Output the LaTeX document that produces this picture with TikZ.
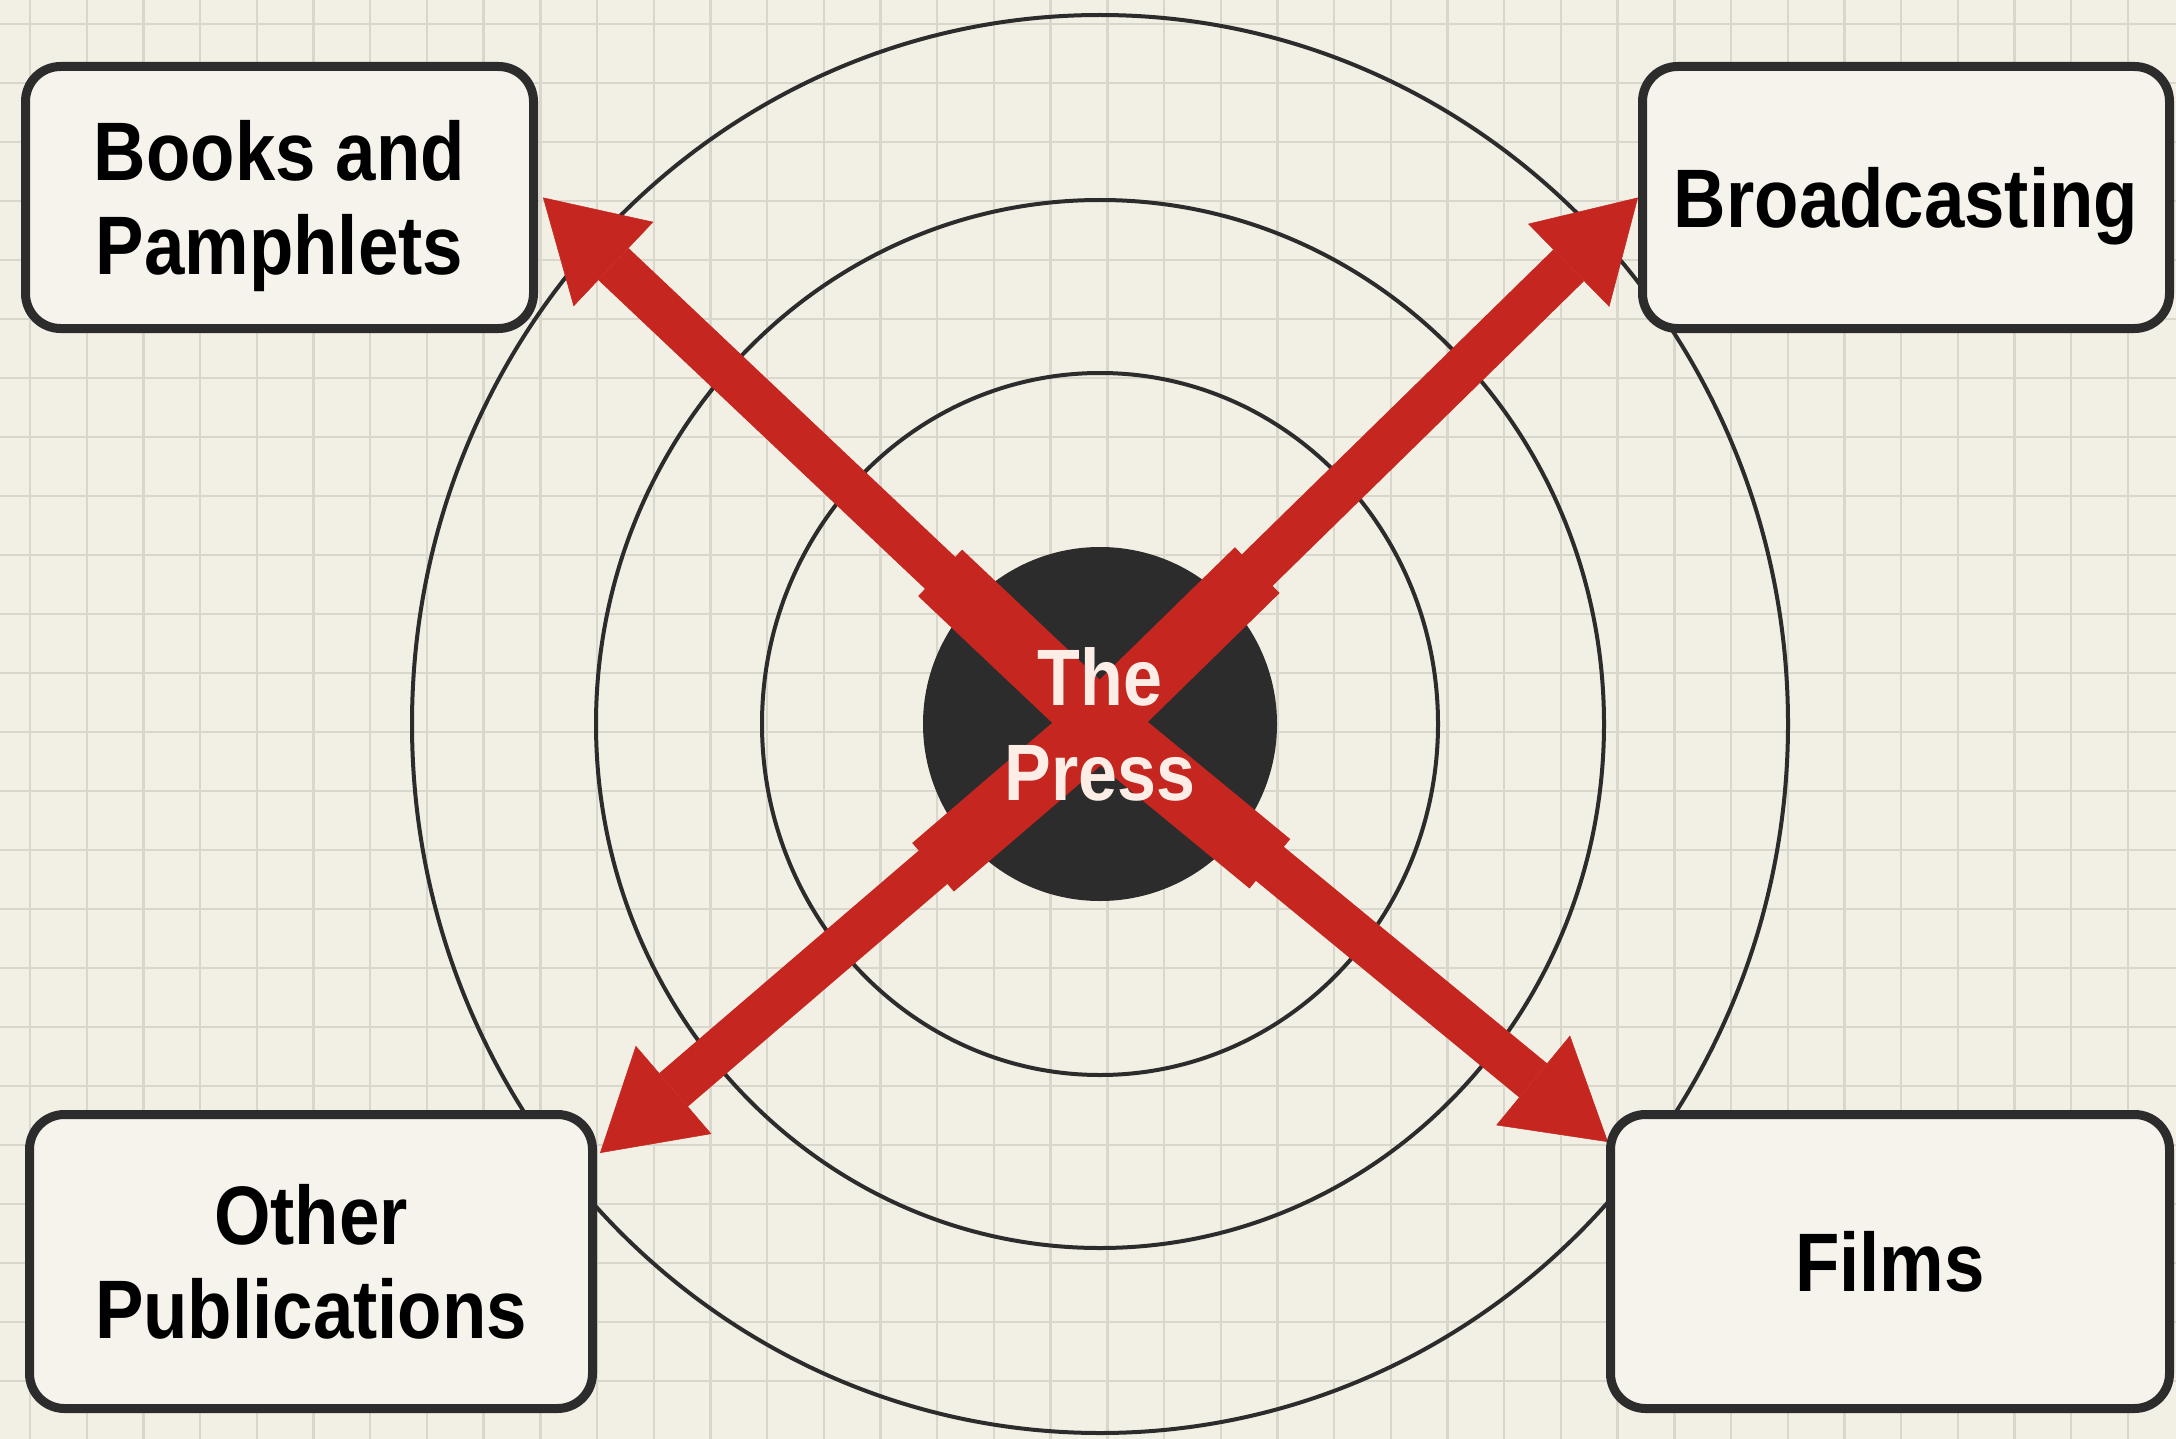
\documentclass[tikz,border=0pt]{standalone}
\usepackage{fontspec}
\newfontfamily\lblfont{Liberation Sans}[FakeStretch=0.875]
\usetikzlibrary{arrows.meta,calc}
\definecolor{paper}{RGB}{242,240,229}
\definecolor{gridc}{RGB}{217,214,203}
\definecolor{ink}{RGB}{44,44,44}
\definecolor{boxfill}{RGB}{245,243,235}
\definecolor{arrowred}{RGB}{198,38,32}
\definecolor{presstxt}{RGB}{252,238,230}
\pgfdeclarelayer{bg}
\pgfdeclarelayer{mid}
\pgfsetlayers{bg,mid,main}
\begin{document}
\begin{tikzpicture}[x=1pt,y=-1pt,
  mediabox/.style={draw=ink, line width=9pt, fill=boxfill, rounded corners=35pt,
    inner sep=0pt, align=center, text depth=0pt,
    font=\lblfont\bfseries\fontsize{83}{94}\selectfont},
  presslabel/.style={inner sep=0pt, align=center, text depth=0pt, text=presstxt,
    font=\lblfont\bfseries\fontsize{80}{95}\selectfont},
  ring/.style={draw=ink, line width=4pt},
  gridline/.style={draw=gridc, line width=2.4pt},
  shaft/.style={draw=arrowred, line width=44pt,
    -{Triangle[width=116pt,length=97pt,line width=0.5pt]}},
  collar/.style={draw=arrowred, line width=64pt},
]
\useasboundingbox (0,0) rectangle (2176,1439);

% boxes and centre label (main layer)
\node[mediabox, minimum width=508pt, minimum height=262pt] (books) at (279.5,197.5) {Books and\\Pamphlets};
\node[mediabox, minimum width=527pt, minimum height=262pt] (broad) at (1906,197.5) {Broadcasting};
\node[mediabox, minimum width=563pt, minimum height=294pt] (other) at (311,1261.5) {Other\\Publications};
\node[mediabox, minimum width=559pt, minimum height=294pt] (films) at (1890,1261.5) {Films};
\node[presslabel] (press) at (1100,724) {The\\Press};

\begin{pgfonlayer}{bg}
  \fill[paper] (0,0) rectangle (2176,1439);
  \foreach \i in {0,...,38} \draw[gridline] ({30+56.7*\i},0) -- ++(0,1439);
  \foreach \j in {0,...,24} \draw[gridline] (0,{24+59*\j}) -- ++(2176,0);
  \draw[ring] (press.center) ellipse [x radius=688, y radius=709];
  \draw[ring] (press.center) ellipse [x radius=504, y radius=524];
  \draw[ring] (press.center) ellipse [x radius=338, y radius=351];
  \fill[ink] (press.center) circle [radius=177];
\end{pgfonlayer}

\begin{pgfonlayer}{mid}
  \coordinate (tNW) at ([xshift=5pt]books.east);
  \coordinate (tNE) at (broad.west);
  \coordinate (tSW) at ([xshift=3pt,yshift=-43pt]other.north east);
  \coordinate (tSE) at ([xshift=2pt,yshift=-32pt]films.north west);
  \foreach \t in {tNW,tNE,tSW,tSE}{
    \draw[collar] (press.center) -- ($(press.center)!220pt!(\t)$);
    \draw[shaft] (press.center) -- (\t);
  }
\end{pgfonlayer}
\end{tikzpicture}
\end{document}
